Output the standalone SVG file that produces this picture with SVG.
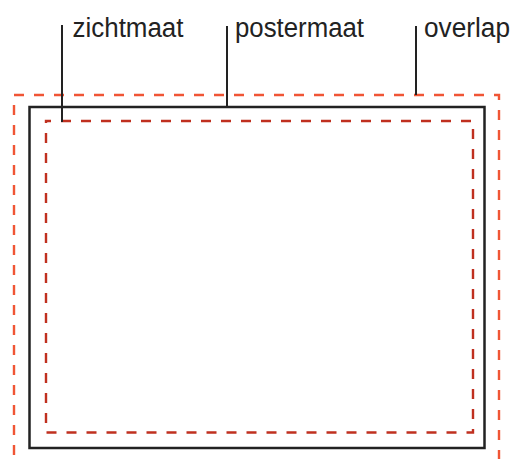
<svg xmlns="http://www.w3.org/2000/svg" width="512" height="459" viewBox="0 0 512 459">
<style>
.lbl{font-family:"Liberation Sans",Arial,sans-serif;font-size:27px;fill:#222}
.lead{stroke:#222;stroke-width:2;fill:none}
.frame{stroke:#222;stroke-width:2.5;fill:none}
.over{stroke:#f05535;stroke-width:2.4;fill:none;stroke-dasharray:10 10}
.sight{stroke:#c0301f;stroke-width:2.4;fill:none;stroke-dasharray:10 10}
</style>
<rect width="512" height="459" fill="#fff"/>
<g id="overlap-rect"><path class="over" d="M14,470 V95 H499 V470" stroke-dashoffset="5"/></g>
<g id="poster-rect"><rect class="frame" x="29.5" y="107" width="455" height="341"/></g>
<g id="sight-rect"><rect class="sight" x="46" y="121" width="427" height="311.5" stroke-dashoffset="5"/></g>
<g id="connectors">
<line class="lead" x1="62" y1="25" x2="62" y2="122"/>
<line class="lead" x1="227" y1="26" x2="227" y2="107"/>
<line class="lead" x1="416" y1="26" x2="416" y2="95"/>
</g>
<g id="label-zichtmaat"><text class="lbl" x="72.5" y="36.5" textLength="111" lengthAdjust="spacingAndGlyphs">zichtmaat</text></g>
<g id="label-postermaat"><text class="lbl" x="235" y="36.5" textLength="129" lengthAdjust="spacingAndGlyphs">postermaat</text></g>
<g id="label-overlap"><text class="lbl" x="424" y="36.5" textLength="86" lengthAdjust="spacingAndGlyphs">overlap</text></g>
</svg>
